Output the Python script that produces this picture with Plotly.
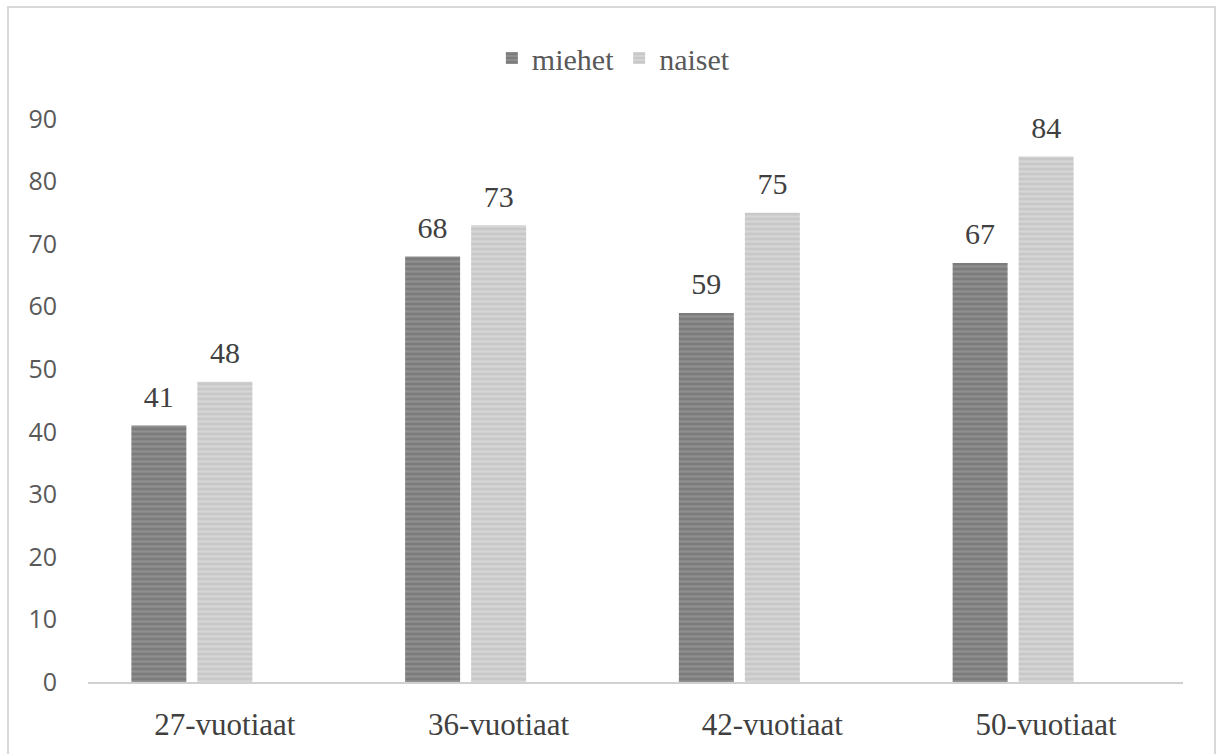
import plotly.graph_objects as go

categories = ["27-vuotiaat", "36-vuotiaat", "42-vuotiaat", "50-vuotiaat"]
miehet = [41, 68, 59, 67]
naiset = [48, 73, 75, 84]
# third, empty series slot in each category group
spacer_slot = [None, None, None, None]
y_ticks = [0, 10, 20, 30, 40, 50, 60, 70, 80, 90]

serif = "Liberation Serif"
sans = "Open Sans"
GAP = 0.2766

fig = go.Figure()
fig.add_trace(go.Bar(
    name="miehet", x=categories, y=miehet, offsetgroup="m",
    marker=dict(color="#7c7c7c", line=dict(width=0),
                pattern=dict(shape="-", fgcolor="#a4a4a4", bgcolor="#7c7c7c",
                             size=5, solidity=0.45)),
))
fig.add_trace(go.Bar(
    name="naiset", x=categories, y=naiset, offsetgroup="n",
    marker=dict(color="#cdcdcd", line=dict(width=0),
                pattern=dict(shape="-", fgcolor="#e4e4e4", bgcolor="#c8c8c8",
                             size=5, solidity=0.45)),
))
fig.add_trace(go.Bar(
    name="spacer", x=categories, y=spacer_slot, offsetgroup="s",
    showlegend=False, hoverinfo="skip",
))

# value labels above the bars, grouped the same way as the bars
for vals, grp in ((miehet, "m"), (naiset, "n"), (spacer_slot, "s")):
    fig.add_trace(go.Scatter(
        x=categories, y=vals, offsetgroup=grp, mode="markers+text",
        text=[("" if v is None else str(v)) for v in vals],
        textposition="top center",
        textfont=dict(family=serif, size=30, color="#404040"),
        marker=dict(size=16, color="rgba(0,0,0,0)"),
        cliponaxis=False, showlegend=False, hoverinfo="skip",
    ))

fig.update_layout(
    width=1217, height=754,
    margin=dict(l=88, r=34, t=119, b=67),
    paper_bgcolor="white", plot_bgcolor="white",
    font=dict(family=serif),
    barmode="group", bargap=GAP, bargroupgap=0.167,
    scattermode="group", scattergap=GAP,
    showlegend=True,
    legend=dict(orientation="h", xref="container", yref="container",
                x=0.504, y=0.923, xanchor="center", yanchor="middle",
                font=dict(family=serif, size=30, color="#595959"),
                itemwidth=30, traceorder="normal"),
    xaxis=dict(range=[-0.5, 3.5], showline=True, linecolor="#d0d0d0",
               linewidth=2, showgrid=False, ticks="", ticklabelstandoff=14,
               tickfont=dict(family=serif, size=31, color="#404040")),
    yaxis=dict(range=[0, 90], tickvals=y_ticks, showgrid=False,
               zeroline=False, showline=False, ticks="",
               ticklabelstandoff=30,
               tickfont=dict(family=sans, size=25, color="#595959")),
    shapes=[dict(type="rect", xref="paper", yref="paper",
                 x0=-80/1095, x1=1127/1095, y0=-0.2, y1=(754-6-67)/(754-119-67),
                 line=dict(color="#d9d9d9", width=2), layer="below")],
)

fig.write_html("out.html")
